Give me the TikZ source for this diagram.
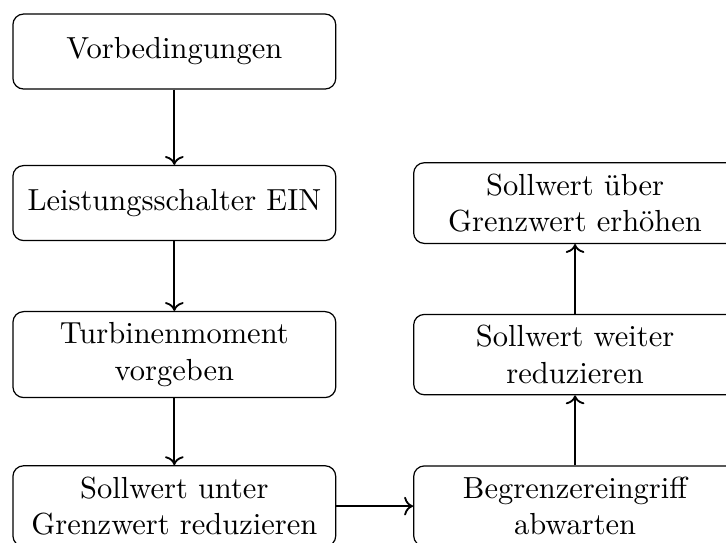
\documentclass[tikz,border=0pt]{standalone}
\usepackage{tikz}
\usetikzlibrary{arrows.meta}
\tikzset{
  block/.style={draw, rounded corners=3.5pt, minimum width=105.9pt, minimum height=24.6pt,
    text width=98.7pt, inner sep=3.6pt, align=center},
  flow/.style={->, semithick}
}

\begin{document}
\begin{tikzpicture}
  \useasboundingbox (-2.01,0.594) rectangle (6.36,-5.666);
  % left column
  \node[block] (vorb) at (0,0) {Vorbedingungen};
  \node[block] (schalter) at (0,-1.747) {Leistungsschalter EIN};
  \node[block] (moment) at (0,-3.494) {Turbinenmoment\\ vorgeben};
  \node[block] (unter) at (0,-5.241) {Sollwert unter\\ Grenzwert reduzieren};
  % right column
  \node[block] (abwarten) at (4.62,-5.241) {Begrenzereingriff\\ abwarten};
  \node[block] (weiter) at (4.62,-3.494) {Sollwert weiter\\ reduzieren};
  \node[block] (ueber) at (4.62,-1.747) {Sollwert über\\ Grenzwert erhöhen};
  \draw[flow] (vorb) -- (schalter);
  \draw[flow] (schalter) -- (moment);
  \draw[flow] (moment) -- (unter);
  \draw[flow] (unter) -- (abwarten);
  \draw[flow] (abwarten) -- (weiter);
  \draw[flow] (weiter) -- (ueber);
\end{tikzpicture}
\end{document}
